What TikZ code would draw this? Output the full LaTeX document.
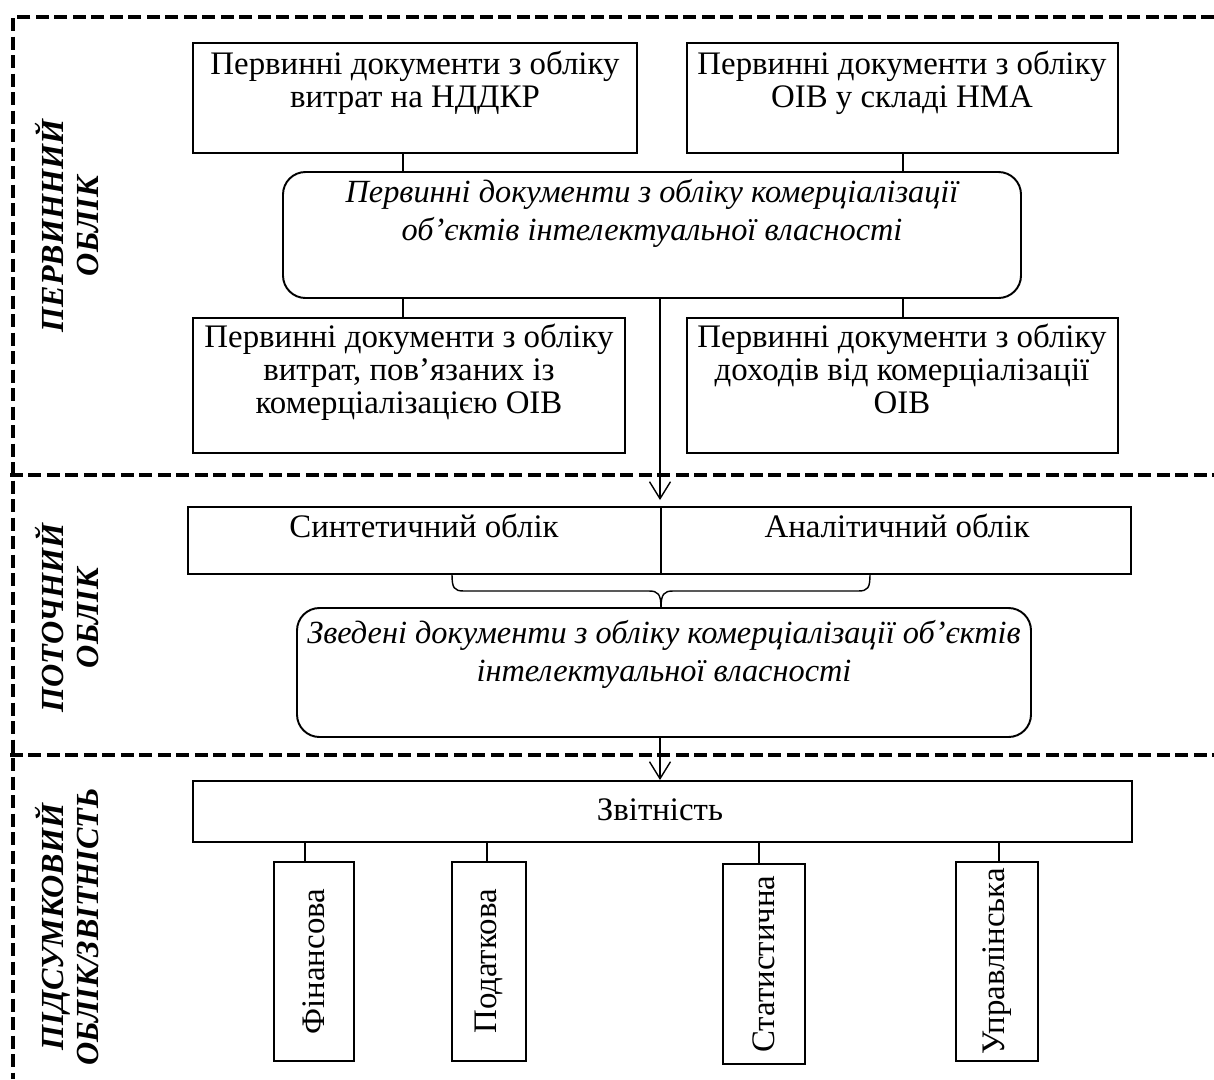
\documentclass[tikz,border=0pt]{standalone}
\usepackage{fontspec}
\setmainfont{Liberation Serif}
\usetikzlibrary{fit,arrows.meta}
\begin{document}
\begin{tikzpicture}[x=0.02cm,y=-0.02cm,
 bx/.style={draw,line width=1.1pt,inner sep=0pt,fit={#1}},
 rbx/.style={bx={#1},rounded corners=0.45cm},
 txt/.style={font=\fontsize{18.7pt}{18.8pt}\selectfont,align=center,inner sep=0pt,anchor=north},
 itx/.style={font=\fontsize{18.4pt}{21.9pt}\selectfont\itshape,align=center,inner sep=0pt,anchor=north},
 lbl/.style={font=\fontsize{18.3pt}{19.9pt}\selectfont\bfseries\itshape,align=center,inner sep=0pt,rotate=90},
 vtx/.style={font=\fontsize{18.7pt}{18.8pt}\selectfont,inner sep=0pt,rotate=90},
 con/.style={line width=0.8pt},
 arr/.style={con,-{Straight Barb[length=0.34cm,width=0.42cm]}},
 dsh/.style={line width=2.3pt,dash pattern=on 0.26cm off 0.11cm}]
\fill[white] (0,0) rectangle (1214,1079);
\useasboundingbox (0,0) rectangle (1214,1079);

% dashed frame
\coordinate (TL) at (13,17);
\coordinate (TR) at (1214,17);
\coordinate (BL) at (13,1079);
\coordinate (M1L) at (10,475);
\coordinate (M1R) at (1214,475);
\coordinate (M2L) at (10,755);
\coordinate (M2R) at (1214,755);
\draw[dsh] (TR) -- (TL) -- (BL);
\draw[dsh] (M1L) -- (M1R);
\draw[dsh] (M2L) -- (M2R);

% section labels
\node[lbl] (L1) at (67,226) {ПЕРВИННИЙ\\ОБЛІК};
\node[lbl] (L2) at (67,618) {ПОТОЧНИЙ\\ОБЛІК};
\node[lbl] (L3) at (67,927) {ПІДСУМКОВИЙ\\ОБЛІК/ЗВІТНІСТЬ};

% boxes
\node[bx={(193,43) (637,153)}] (A) {};
\node[txt] (At) at (415,51) {Первинні документи з обліку\\витрат на НДДКР};
\node[bx={(687,43) (1118,153)}] (B) {};
\node[txt] (Bt) at (902,51) {Первинні документи з обліку\\ОІВ у складі НМА};
\node[rbx={(283,172) (1021,298)}] (C) {};
\node[itx] (Ct) at (652,179) {Первинні документи з обліку комерціалізації\\об’єктів інтелектуальної власності};
\node[bx={(193,318) (625,453)}] (D) {};
\node[txt] (Dt) at (409,324) {Первинні документи з обліку\\витрат, пов’язаних із\\комерціалізацією ОІВ};
\node[bx={(687,318) (1118,453)}] (E) {};
\node[txt] (Et) at (902,324) {Первинні документи з обліку\\доходів від комерціалізації\\ОІВ};

\node[bx={(188,507) (661,574)}] (S1) {};
\node[txt] (S1t) at (424,514) {Синтетичний облік};
\node[bx={(661,507) (1131,574)}] (S2) {};
\node[txt] (S2t) at (897,514) {Аналітичний облік};

\node[rbx={(297,608) (1031,737)}] (F) {};
\node[itx] (Ft) at (664,620) {Зведені документи з обліку комерціалізації об’єктів\\інтелектуальної власності};

\node[bx={(193,781) (1132,842)}] (R) {};
\node[txt,anchor=center] (Rt) at (660,810) {Звітність};

\node[bx={(274,862) (354,1061)}] (V1) {};
\node[vtx] (V1t) at (V1.center) {Фінансова};
\node[bx={(452,862) (526,1061)}] (V2) {};
\node[vtx] (V2t) at (V2.center) {Податкова};
\node[bx={(723,864) (805,1064)}] (V3) {};
\node[vtx] (V3t) at (V3.center) {Статистична};
\node[bx={(956,862) (1038,1061)}] (V4) {};
\node[vtx] (V4t) at (V4.center) {Управлінська};

% connectors
\coordinate (xa) at (403,0);
\coordinate (xb) at (903,0);
\coordinate (xm) at (660,0);
\coordinate (x1) at (305,0);
\coordinate (x2) at (487,0);
\coordinate (x3) at (759,0);
\coordinate (x4) at (999,0);
\draw[con] (A.south -| xa) -- (C.north -| xa);
\draw[con] (B.south -| xb) -- (C.north -| xb);
\draw[con] (C.south -| xa) -- (D.north -| xa);
\draw[con] (C.south -| xb) -- (E.north -| xb);
\draw[arr] (C.south -| xm) -- ([yshift=0.12cm]S1.north east -| xm);

% brace
\coordinate (bl) at (452,574);
\coordinate (br) at (870,574);
\coordinate (bc) at (661,608);
\draw[con] (bl) .. controls (452,588) and (454,591) .. (464,591) -- (649,591) .. controls (658,591) and (661,594) .. (bc);
\draw[con] (bc) .. controls (661,594) and (664,591) .. (673,591) -- (858,591) .. controls (868,591) and (870,588) .. (br);

\draw[arr] (F.south -| xm) -- (R.north -| xm);
\draw[con] (R.south -| x1) -- (V1.north -| x1);
\draw[con] (R.south -| x2) -- (V2.north -| x2);
\draw[con] (R.south -| x3) -- (V3.north -| x3);
\draw[con] (R.south -| x4) -- (V4.north -| x4);
\end{tikzpicture}
\end{document}
